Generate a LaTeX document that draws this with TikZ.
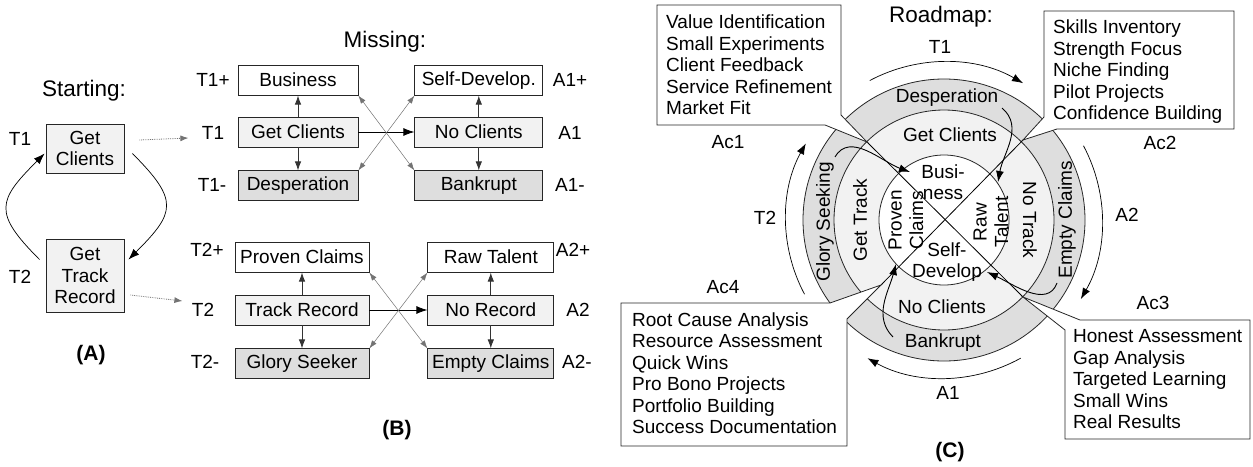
\documentclass[tikz,border=0pt]{standalone}
\usepackage{fontspec}
\setmainfont{Liberation Sans}
\usetikzlibrary{arrows.meta,positioning,calc}

\definecolor{lightgrey}{gray}{0.95}
\definecolor{midgrey}{gray}{0.87}

\begin{document}
\begin{tikzpicture}[x=1pt, y=1pt, >={Latex[length=11pt,width=8pt]}, every node/.style={font=\fontsize{19}{21.5}\selectfont}]
% styles
\tikzstyle{heading}=[font=\fontsize{22.5}{25}\selectfont]
\tikzstyle{tag}=[font=\fontsize{21}{24}\selectfont\bfseries]
\tikzstyle{statebox}=[draw=black!85, line width=0.8pt, minimum height=30pt, inner sep=0pt]
\tikzstyle{posbox}=[statebox, fill=white]
\tikzstyle{midbox}=[statebox, fill=lightgrey]
\tikzstyle{negbox}=[statebox, fill=midgrey]
\tikzstyle{startbox}=[draw=black!85, line width=0.8pt, fill=lightgrey, align=center, minimum width=78pt, inner sep=0pt]
\tikzstyle{updown}=[->, black!80, line width=0.8pt, >={Latex[length=9pt,width=6.5pt]}]
\tikzstyle{cross}=[<->, black!55, line width=0.5pt, >={Latex[length=8pt,width=5.5pt]}]
\tikzstyle{link}=[->, black!55, densely dotted, line width=0.8pt, >={Latex[length=8pt,width=6pt]}]
\tikzstyle{ring}=[draw=black!85, line width=0.8pt]
\tikzstyle{turn}=[->, line width=0.7pt]
\tikzstyle{listtext}=[anchor=north west, align=left, inner sep=0pt]
\tikzstyle{callout}=[draw=black!85, line width=0.8pt, fill=white]

\useasboundingbox (0,0) rectangle (1253,-466);

% (A) starting loop
\node[heading] (starting) at (84,-91) {Starting:};
\node[startbox, minimum height=49pt] (getcl) at (85,-148.5) {Get\\Clients};
\node[startbox, minimum height=73pt] (gettr) at (85,-275.5) {Get\\Track\\Record};
\node (ta1) at (20,-139) {T1};
\node (ta2) at (20,-277) {T2};
\node[tag] (tagA) at (91,-355) {(A)};
\draw[turn] ([shift={(8,-5)}]getcl.east) to[out=-45,in=45,looseness=1.6] ([shift={(4,-21)}]gettr.north east);
\draw[turn] ([shift={(-6,-21)}]gettr.north west) to[out=135,in=-135,looseness=1.6] ([shift={(-1,-5)}]getcl.west);

% (B) missing pieces, clients
\node[heading] (missing) at (385,-42) {Missing:};
\node[midbox, minimum width=120pt] (gcl) at (298,-132) {Get Clients};
\node[posbox, minimum width=120pt, above=21pt of gcl] (bus) {Business};
\node[negbox, minimum width=120pt, below=23pt of gcl] (desp) {Desperation};
\node[midbox, minimum width=128pt, right=56pt of gcl] (nocl) {No Clients};
\node[posbox, minimum width=128pt, above=21pt of nocl] (selfd) {Self-Develop.};
\node[negbox, minimum width=128pt, below=23pt of nocl] (bankr) {Bankrupt};
\node (tb1p) at (213,-80) {T1+};
\node (tb1) at (213,-133) {T1};
\node (tb1m) at (212,-185) {T1-};
\node (ab1p) at (570,-80) {A1+};
\node (ab1) at (570,-133) {A1};
\node (ab1m) at (570,-185) {A1-};

% (B) missing pieces, track record
\node[midbox, minimum width=134pt] (trk) at (302,-310) {Track Record};
\node[posbox, minimum width=134pt, above=22pt of trk] (prov) {Proven Claims};
\node[negbox, minimum width=134pt, below=23pt of trk] (glory) {Glory Seeker};
\node[midbox, minimum width=126pt, right=58pt of trk] (norec) {No Record};
\node[posbox, minimum width=126pt, above=22pt of norec] (rawt) {Raw Talent};
\node[negbox, minimum width=126pt, below=23pt of norec] (empt) {Empty Claims};
\node (tb2p) at (207,-250) {T2+};
\node (tb2) at (203,-310) {T2};
\node (tb2m) at (205,-362) {T2-};
\node (ab2p) at (573,-250) {A2+};
\node (ab2) at (578,-310) {A2};
\node (ab2m) at (577,-362) {A2-};
\node[tag] (tagB) at (397,-430) {(B)};

% arrows in (B)
\foreach \m/\u/\d in {gcl/bus/desp, nocl/selfd/bankr, trk/prov/glory, norec/rawt/empt}{
  \draw[updown] (\m) -- (\u);
  \draw[updown] (\m) -- (\d);
}
\draw[turn, line width=0.8pt] (gcl) -- (nocl);
\draw[turn, line width=0.8pt] (trk) -- (norec);
\draw[cross] (bus.south east) -- (bankr.north west);
\draw[cross] (selfd.south west) -- (desp.north east);
\draw[cross] (prov.south east) -- (empt.north west);
\draw[cross] (rawt.south west) -- (glory.north east);

% links (A) -> (B)
\draw[link] ([shift={(15,8.5)}]getcl.east) -- ([shift={(-10,-5)}]tb1.west);
\draw[link] ([shift={(6,-19.5)}]gettr.east) -- ([shift={(-6,9)}]tb2.west);

% (C) roadmap rings
\coordinate (O) at (944,-220);
\draw[ring, fill=midgrey] (O) circle (141);
\draw[ring, fill=lightgrey] (O) circle (110);
\draw[ring, fill=white] (O) circle (65);
\node[heading] (roadmap) at (941,-17) {Roadmap:};
\node (desp2) at (947,-98) {Desperation};
\node (gcl2) at (950,-135) {Get Clients};
\node[align=center] (bus2) at (943,-182) {Busi-\\ness};
\node[align=center, rotate=90] (raw2) at (991,-222) {Raw\\Talent};
\node[align=center, rotate=90] (prov2) at (906,-220) {Proven\\Claims};
\node[align=center] (selfd2) at (947,-262) {Self-\\Develop};
\node[rotate=90] (gtrack) at (860,-220) {Get Track};
\node[rotate=-90] (ntrack) at (1030,-220) {No Track};
\node[rotate=90] (glory2) at (825,-222) {Glory Seeking};
\node[rotate=90] (empt2) at (1067,-220) {Empty Claims};
\node (nocl2) at (942,-307) {No Clients};
\node (bankr2) at (943,-343) {Bankrupt};

% callout tips and cross
\coordinate (p1) at (867,-142);
\coordinate (p2) at (1023,-140);
\coordinate (p3) at (1023,-297);
\coordinate (p4) at (881,-285);
\draw[line width=0.8pt] (p1) -- (p3);
\draw[line width=0.8pt] (p2) -- (p4);

% callouts
\draw[callout] (657,-5) -- (841,-5) -- (841,-115) -- (p1) -- (825,-125) -- (657,-125) -- cycle;
\node[listtext] (ac1list) at (666,-15) {Value Identification\\Small Experiments\\Client Feedback\\Service Refinement\\Market Fit};
\draw[callout] (1044,-11) -- (1234,-11) -- (1234,-129) -- (1057,-129) -- (p2) -- (1044,-117) -- cycle;
\node[listtext] (ac2list) at (1053,-20) {Skills Inventory\\Strength Focus\\Niche Finding\\Pilot Projects\\Confidence Building};
\draw[callout] (1065,-330) -- (p3) -- (1080,-320) -- (1250,-320) -- (1250,-439) -- (1065,-439) -- cycle;
\node[listtext] (ac3list) at (1073,-329.5) {Honest Assessment\\Gap Analysis\\Targeted Learning\\Small Wins\\Real Results};
\draw[callout] (621,-303) -- (830,-303) -- (p4) -- (847,-319) -- (847,-446) -- (621,-446) -- cycle;
\node[listtext] (ac4list) at (632,-312.5) {Root Cause Analysis\\Resource Assessment\\Quick Wins\\Pro Bono Projects\\Portfolio Building\\Success Documentation};

% labels round the rings
\node (tc1) at (940,-47) {T1};
\node (ac1) at (728,-142) {Ac1};
\node (ac2) at (1160,-143) {Ac2};
\node (ac3) at (1153,-303) {Ac3};
\node (ac4) at (723,-287) {Ac4};
\node (ac2lab) at (1127,-215) {A2};
\node (ac1lab) at (948,-393) {A1};
\node (tc2) at (765,-218) {T2};
\node[tag] (tagC) at (950,-452) {(C)};

% cycle arcs
\draw[turn] ([shift={(118:158)}]O) arc[start angle=118, end angle=60, radius=158];
\draw[turn] ([shift={(28:158)}]O) arc[start angle=28, end angle=-30, radius=158];
\draw[turn] ([shift={(-61:158)}]O) arc[start angle=-61, end angle=-119, radius=158];
\draw[turn] ([shift={(208:158)}]O) arc[start angle=208, end angle=151, radius=158];

% transitions
\coordinate (g0) at (835,-157);
\coordinate (g1) at (910,-172);
\coordinate (d0) at (1002,-108);
\coordinate (d1) at (998,-182);
\coordinate (e0) at (1057,-283);
\coordinate (e1) at (987,-272);
\coordinate (b0) at (893,-337);
\coordinate (b1) at (896,-264);
\draw[turn, line width=0.9pt] (g0) to[out=60,in=160] (g1);
\draw[turn, line width=0.9pt] (d0) to[out=-40,in=80] (d1);
\draw[turn, line width=0.9pt] (e0) to[out=-110,in=-25] (e1);
\draw[turn, line width=0.9pt] (b0) to[out=135,in=-105] (b1);
\end{tikzpicture}
\end{document}
